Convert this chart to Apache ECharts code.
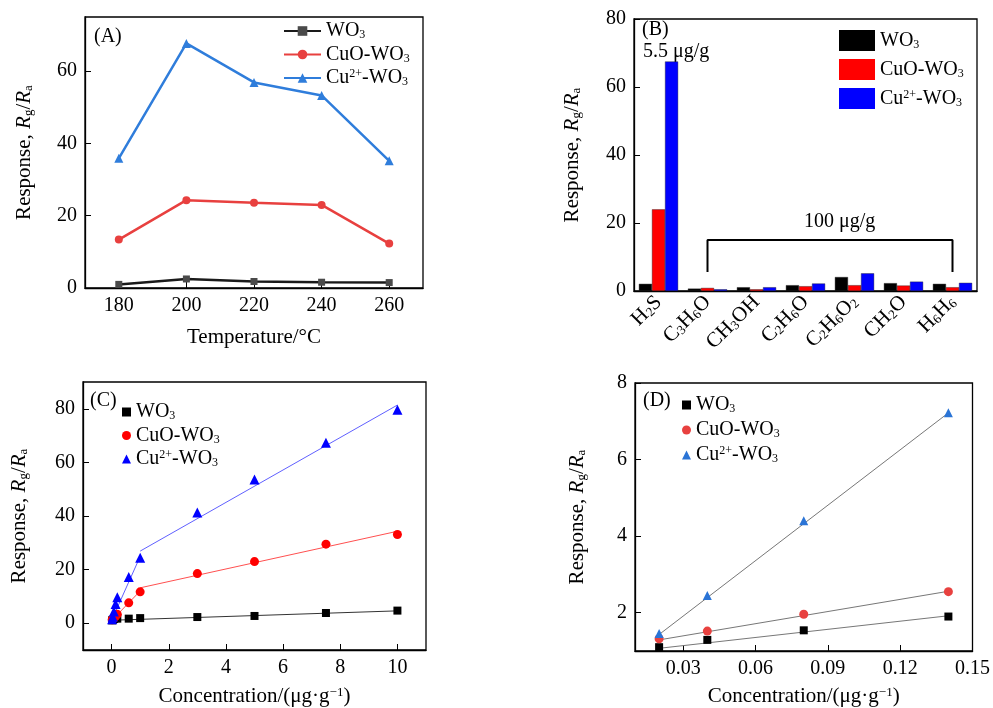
<!DOCTYPE html>
<html>
<head>
<meta charset="utf-8">
<script src="https://cdn.jsdelivr.net/npm/echarts@6/dist/echarts.min.js"></script>
<style>
  html, body { margin: 0; padding: 0; background: #fff; }
  #chart { width: 993px; height: 708px; }
</style>
</head>
<body>
<div id="chart"></div>
<script>
// (A) response vs temperature
const tempA = [180, 200, 220, 240, 260];
const wo3A = [1.0, 2.5, 1.8, 1.6, 1.5];
const cuoA = [13.4, 24.3, 23.6, 23.0, 12.3];
const cu2A = [35.9, 67.7, 56.9, 53.3, 35.2];

// (B) selectivity
const gases = ["H2S", "C3H6O", "CH3OH", "C2H6O", "C2H6O2", "CH2O", "H6H6"];
const wo3B = [2.1, 0.7, 1.1, 1.7, 4.1, 2.3, 2.1];
const cuoB = [24.0, 0.9, 0.5, 1.4, 1.7, 1.6, 1.1];
const cu2B = [67.5, 0.5, 1.1, 2.2, 5.2, 2.75, 2.4];
const bracketB = [["C3H6O", 5.6], ["C3H6O", 15], ["H6H6", 15], ["H6H6", 5.6]];

// (C) response vs concentration, full range
const concC = [0.02, 0.04, 0.08, 0.14, 0.2, 0.6, 1, 3, 5, 7.5, 10];
const wo3C = [1.05, 1.25, 1.55, 1.9, 1.7, 1.7, 1.9, 2.3, 2.7, 3.8, 4.7];
const cuoC = [1.3, 1.5, 1.95, 2.55, 3.3, 7.6, 11.7, 18.5, 23.0, 29.5, 33.1];
const cu2C = [1.45, 2.45, 4.4, 7.2, 9.7, 17.2, 24.4, 41.3, 53.6, 67.3, 79.6];
const wo3FitC = [[0.02, 1.1], [10, 4.6]];
const cuoLowC = [[0.02, 1.2], [1, 12.0]];
const cuoHighC = [[1, 13.2], [10, 34.3]];
const cu2LowC = [[0.02, 1.5], [1, 24.9]];
const cu2HighC = [[1, 26.9], [10, 81.4]];

// (D) low concentration range
const concD = [0.02, 0.04, 0.08, 0.14];
const wo3D = [1.10, 1.29, 1.54, 1.90];
const cuoD = [1.32, 1.52, 1.96, 2.55];
const cu2D = [1.46, 2.45, 4.40, 7.22];
const wo3FitD = [[0.02, 1.07], [0.14, 1.92]];
const cuoFitD = [[0.02, 1.29], [0.14, 2.56]];
const cu2FitD = [[0.02, 1.43], [0.14, 7.22]];

// tick labels
const ticksAx = [180, 200, 220, 240, 260];
const ticksAy = [0, 20, 40, 60];
const ticksBy = [0, 20, 40, 60, 80];
const ticksCx = [0, 2, 4, 6, 8, 10];
const ticksCy = [0, 20, 40, 60, 80];
const ticksDx = [0.03, 0.06, 0.09, 0.12, 0.15];
const ticksDy = [2, 4, 6, 8];

const F = "Liberation Serif";
const FS = 20;
const R = {
  n: { fontFamily: F, fontSize: FS, lineHeight: FS, color: "#000" },
  i: { fontFamily: F, fontSize: FS, lineHeight: FS, fontStyle: "italic", color: "#000" },
  sub: { fontFamily: F, fontSize: 12, lineHeight: 12, verticalAlign: "bottom", color: "#000" },
  sup: { fontFamily: F, fontSize: 12, lineHeight: 12, verticalAlign: "top", color: "#000" },
};
// slightly bigger text for axis titles
const RN = {
  n: { fontFamily: F, fontSize: 21, lineHeight: 21, color: "#000" },
  i: { fontFamily: F, fontSize: 21, lineHeight: 21, fontStyle: "italic", color: "#000" },
  sub: { fontFamily: F, fontSize: 13, lineHeight: 13, verticalAlign: "bottom", color: "#000" },
  sup: { fontFamily: F, fontSize: 13, lineHeight: 13, verticalAlign: "top", color: "#000" },
};
const labelOf = {
  WO3: "{n|WO}{sub|3}",
  "CuO-WO3": "{n|CuO-WO}{sub|3}",
  "Cu2+-WO3": "{n|Cu}{sup|2+}{n|-WO}{sub|3}",
};
const respName = "{n|Response, }{i|R}{sub|g}{n|/}{i|R}{sub|a}";
const concName = "{n|Concentration/(μg·g}{sup|−1}{n|)}";

function legendFmt(name) {
  return labelOf[name.split("|")[0]];
}

function valAxis(gridIndex, min, max, ticks, name, gap) {
  return {
    type: "value",
    gridIndex: gridIndex,
    min: min,
    max: max,
    name: name,
    nameLocation: "middle",
    nameGap: gap,
    nameTextStyle: { rich: RN },
    axisLine: { show: true, onZero: false, lineStyle: { color: "#000", width: 1.3 } },
    axisTick: { show: true, inside: true, length: 6, customValues: ticks, lineStyle: { color: "#000" } },
    axisLabel: { customValues: ticks, fontFamily: F, fontSize: FS, color: "#000", margin: 8 },
    splitLine: { show: false },
  };
}

function fitLine(name, data, xi, yi, color) {
  return {
    name: name, type: "line", xAxisIndex: xi, yAxisIndex: yi, data: data,
    symbol: "none", silent: true, z: 1,
    lineStyle: { color: color, width: 1 },
  };
}

function scatter(name, xs, ys, xi, yi, symbol, size, color) {
  return {
    name: name, type: "scatter", xAxisIndex: xi, yAxisIndex: yi,
    data: xs.map((x, k) => [x, ys[k]]),
    symbol: symbol, symbolSize: size, z: 3,
    itemStyle: { color: color, opacity: 1 },
  };
}

function tempLine(name, ys, symbol, size, color, mark) {
  return {
    name: name, type: "line", xAxisIndex: 0, yAxisIndex: 0,
    data: tempA.map((x, k) => [x, ys[k]]),
    symbol: symbol, symbolSize: size, showSymbol: true,
    lineStyle: { color: color, width: 2.5 },
    itemStyle: { color: mark },
  };
}

function bars(name, data, color) {
  return {
    name: name, type: "bar", xAxisIndex: 1, yAxisIndex: 1, data: data,
    barGap: "0%", barCategoryGap: "20%",
    itemStyle: { color: color, borderColor: "#222", borderWidth: 0.4 },
  };
}

const myChart = echarts.init(document.getElementById("chart"), null, { renderer: "canvas" });

const gridStyle = { show: true, borderColor: "#000", borderWidth: 1.3, backgroundColor: "transparent" };

const option = {
  animation: false,
  backgroundColor: "#fff",
  grid: [
    Object.assign({ left: 85, top: 17, width: 338, height: 271 }, gridStyle),
    Object.assign({ left: 634, top: 19, width: 343, height: 272 }, gridStyle),
    Object.assign({ left: 83, top: 382, width: 343, height: 271 }, gridStyle),
    Object.assign({ left: 635, top: 383, width: 343, height: 269 }, gridStyle),
  ],
  xAxis: [
    valAxis(0, 170, 270, ticksAx, "{n|Temperature/°C}", 39),
    {
      type: "category", gridIndex: 1, data: gases,
      axisLine: { show: true, onZero: false, lineStyle: { color: "#000", width: 1.3 } },
      axisTick: { show: false },
      axisLabel: {
        rotate: 45, interval: 0, margin: 8, color: "#000",
        fontFamily: F, fontSize: 21,
        formatter: (v) => "{n|" + v.replace(/(\d)/g, "}{sub|$1}{n|") + "}",
        rich: RN,
      },
    },
    valAxis(2, -1, 11, ticksCx, concName, 36),
    valAxis(3, 0.01, 0.15, ticksDx, concName, 35),
  ],
  yAxis: [
    valAxis(0, 0, 75, ticksAy, respName, 50),
    valAxis(1, 0, 80, ticksBy, respName, 51),
    valAxis(2, -10, 90, ticksCy, respName, 53),
    valAxis(3, 1, 8, ticksDy, respName, 47),
  ],
  legend: [
    {
      data: ["WO3|A", "CuO-WO3|A", "Cu2+-WO3|A"],
      orient: "vertical", left: 283, top: 21, padding: 0,
      itemWidth: 37, itemHeight: 12, itemGap: 3.5,
      formatter: legendFmt, textStyle: { rich: R }, selectedMode: false,
    },
    {
      data: ["WO3|B", "CuO-WO3|B", "Cu2+-WO3|B"],
      orient: "vertical", left: 839, top: 30, padding: 0, icon: "rect",
      itemWidth: 36, itemHeight: 21, itemGap: 8,
      itemStyle: { borderWidth: 0 },
      formatter: legendFmt, textStyle: { rich: R }, selectedMode: false,
    },
    {
      data: ["WO3|C", "CuO-WO3|C", "Cu2+-WO3|C"],
      orient: "vertical", left: 122, top: 402, padding: 0,
      itemWidth: 9, itemHeight: 9, itemGap: 3.5,
      formatter: legendFmt, textStyle: { rich: R }, selectedMode: false,
    },
    {
      data: ["WO3|D", "CuO-WO3|D", "Cu2+-WO3|D"],
      orient: "vertical", left: 682, top: 395, padding: 0,
      itemWidth: 9, itemHeight: 9, itemGap: 5,
      formatter: legendFmt, textStyle: { rich: R }, selectedMode: false,
    },
  ],
  graphic: [
    { type: "text", left: 94, top: 27, style: { text: "(A)", font: "20px " + F, fill: "#000" } },
    { type: "text", left: 642, top: 20, style: { text: "(B)", font: "20px " + F, fill: "#000" } },
    { type: "text", left: 643, top: 42, style: { text: "5.5 μg/g", font: "20px " + F, fill: "#000" } },
    { type: "text", left: 804, top: 212, style: { text: "100 μg/g", font: "20px " + F, fill: "#000" } },
    { type: "text", left: 90, top: 391, style: { text: "(C)", font: "20px " + F, fill: "#000" } },
    { type: "text", left: 643, top: 391, style: { text: "(D)", font: "20px " + F, fill: "#000" } },
  ],
  series: [
    tempLine("WO3|A", wo3A, "rect", 7, "#1a1a1a", "#4a4a4a"),
    tempLine("CuO-WO3|A", cuoA, "circle", 8, "#e8403f", "#e8403f"),
    tempLine("Cu2+-WO3|A", cu2A, "triangle", 9, "#2f7ddb", "#2f7ddb"),

    bars("WO3|B", wo3B, "#000000"),
    bars("CuO-WO3|B", cuoB, "#ff0000"),
    bars("Cu2+-WO3|B", cu2B, "#0000ff"),
    {
      name: "bracket", type: "line", xAxisIndex: 1, yAxisIndex: 1, data: bracketB,
      symbol: "none", silent: true, lineStyle: { color: "#000", width: 2 },
    },

    fitLine("fitw|C", wo3FitC, 2, 2, "#333333"),
    fitLine("fitc1|C", cuoLowC, 2, 2, "#ff5050"),
    fitLine("fitc2|C", cuoHighC, 2, 2, "#ff5050"),
    fitLine("fitu1|C", cu2LowC, 2, 2, "#6060ff"),
    fitLine("fitu2|C", cu2HighC, 2, 2, "#6060ff"),
    scatter("WO3|C", concC, wo3C, 2, 2, "rect", 8, "#000000"),
    scatter("CuO-WO3|C", concC, cuoC, 2, 2, "circle", 9, "#ff0000"),
    scatter("Cu2+-WO3|C", concC, cu2C, 2, 2, "triangle", 10, "#0000ff"),

    fitLine("fitw|D", wo3FitD, 3, 3, "#777777"),
    fitLine("fitc|D", cuoFitD, 3, 3, "#777777"),
    fitLine("fitu|D", cu2FitD, 3, 3, "#777777"),
    scatter("WO3|D", concD, wo3D, 3, 3, "rect", 8, "#000000"),
    scatter("CuO-WO3|D", concD, cuoD, 3, 3, "circle", 9, "#e8413f"),
    scatter("Cu2+-WO3|D", concD, cu2D, 3, 3, "triangle", 9, "#2a74d6"),
  ],
};

myChart.setOption(option);
</script>
</body>
</html>
